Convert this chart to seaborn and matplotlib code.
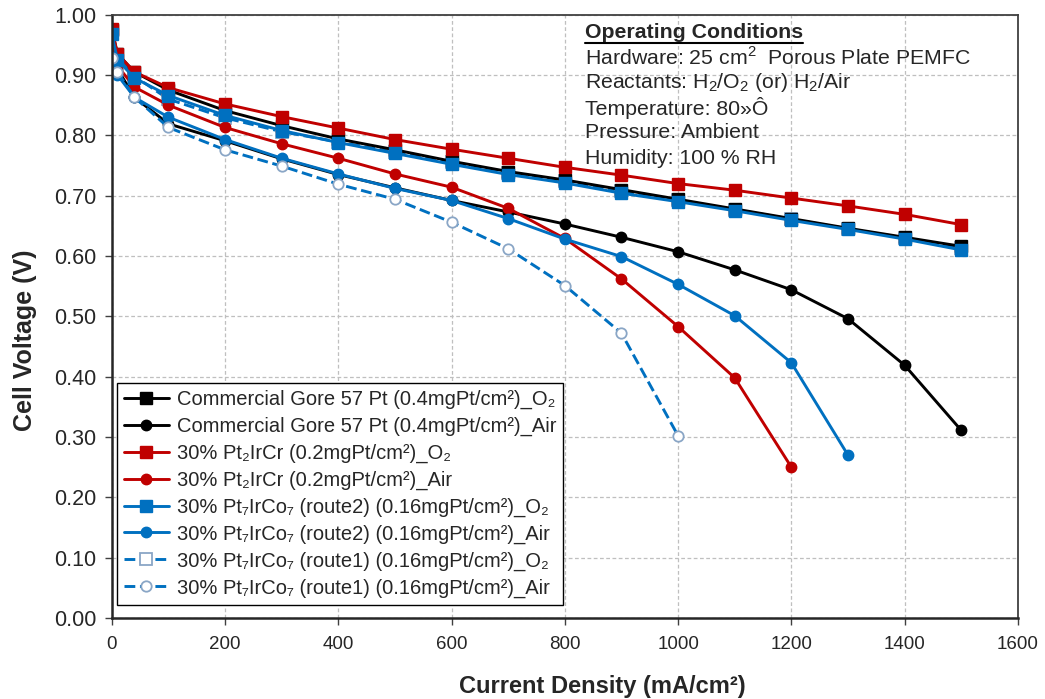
import matplotlib
matplotlib.use("Agg")
import matplotlib.pyplot as plt
from matplotlib.lines import Line2D
from matplotlib.ticker import FormatStrFormatter, MultipleLocator
import seaborn as sns

# current density points (mA/cm2)
current = [0, 10, 40, 100, 200, 300, 400, 500, 600, 700, 800, 900,
           1000, 1100, 1200, 1300, 1400, 1500]

gore_o2 = [0.975, 0.935, 0.905, 0.875, 0.841, 0.816, 0.794, 0.776, 0.757, 0.740,
           0.726, 0.710, 0.694, 0.678, 0.662, 0.646, 0.631, 0.616]
gore_air = [0.930, 0.910, 0.863, 0.819, 0.791, 0.761, 0.735, 0.713, 0.692, 0.673,
            0.653, 0.631, 0.607, 0.577, 0.544, 0.496, 0.419, 0.311]
ptircr_o2 = [0.977, 0.935, 0.905, 0.879, 0.852, 0.831, 0.812, 0.793, 0.777, 0.762,
             0.747, 0.734, 0.720, 0.709, 0.696, 0.683, 0.669, 0.652]
ptircr_air = [0.938, 0.915, 0.880, 0.850, 0.813, 0.786, 0.762, 0.736, 0.714, 0.679,
              0.629, 0.562, 0.483, 0.398, 0.250]
route2_o2 = [0.968, 0.925, 0.895, 0.866, 0.833, 0.808, 0.788, 0.770, 0.752, 0.735,
             0.721, 0.704, 0.690, 0.675, 0.659, 0.644, 0.628, 0.610]
route2_air = [0.930, 0.900, 0.863, 0.830, 0.793, 0.762, 0.736, 0.712, 0.692, 0.662,
              0.628, 0.599, 0.553, 0.501, 0.423, 0.270]
route1_o2 = [0.970, 0.928, 0.898, 0.860, 0.829, 0.806, 0.789, 0.772, 0.755, 0.738,
             0.724, 0.708, 0.692, 0.677, 0.661, 0.645, 0.630, 0.614]
route1_air = [0.928, 0.905, 0.863, 0.813, 0.776, 0.749, 0.719, 0.694, 0.656, 0.612,
              0.551, 0.472, 0.302]

labels = [
    "Commercial Gore 57 Pt (0.4mgPt/cm²)_O₂",
    "Commercial Gore 57 Pt (0.4mgPt/cm²)_Air",
    "30% Pt₂IrCr (0.2mgPt/cm²)_O₂",
    "30% Pt₂IrCr (0.2mgPt/cm²)_Air",
    "30% Pt₇IrCo₇ (route2) (0.16mgPt/cm²)_O₂",
    "30% Pt₇IrCo₇ (route2) (0.16mgPt/cm²)_Air",
    "30% Pt₇IrCo₇ (route1) (0.16mgPt/cm²)_O₂",
    "30% Pt₇IrCo₇ (route1) (0.16mgPt/cm²)_Air",
]

conditions = [
    "Hardware: 25 cm$^2$  Porous Plate PEMFC",
    "Reactants: H$_2$/O$_2$ (or) H$_2$/Air",
    "Temperature: 80»Ô",
    "Pressure: Ambient",
    "Humidity: 100 % RH",
]

BLACK, RED, BLUE = "#000000", "#C00000", "#0070C0"
PALE = "#8AA6C6"

# values, colour, marker, linestyle, filled, zorder
series = [
    (gore_o2, BLACK, "s", "-", True, 2.2),
    (gore_air, BLACK, "o", "-", True, 2.2),
    (ptircr_o2, RED, "s", "-", True, 2.3),
    (ptircr_air, RED, "o", "-", True, 2.3),
    (route2_o2, BLUE, "s", "-", True, 2.4),
    (route2_air, BLUE, "o", "-", True, 2.4),
    (route1_o2, BLUE, "s", "--", False, 2.0),
    (route1_air, BLUE, "o", "--", False, 2.5),
]

sns.set_style("white")
plt.rcParams["font.family"] = ["Liberation Sans", "DejaVu Sans"]
plt.rcParams["mathtext.fontset"] = "custom"
plt.rcParams["mathtext.rm"] = "Liberation Sans"

fig = plt.figure(figsize=(10.45, 6.99), dpi=100)
ax = fig.add_axes([0.107, 0.116, 0.867, 0.863])

for (vals, color, marker, ls, filled, z), label in zip(series, labels):
    sns.lineplot(
        x=current[:len(vals)], y=vals, ax=ax, label=label,
        color=color, linestyle=ls, linewidth=2.1, zorder=z,
        marker=marker, markersize=8 if marker == "s" else 7.5,
        markerfacecolor=color if filled else "white",
        markeredgecolor=color if filled else PALE,
        markeredgewidth=1.0 if filled else 1.3,
        dashes=False if ls == "-" else (3, 1.6),
    )

ax.set_xlim(0, 1600)
ax.set_ylim(0, 1.0)
ax.xaxis.set_major_locator(MultipleLocator(200))
ax.yaxis.set_major_locator(MultipleLocator(0.1))
ax.yaxis.set_major_formatter(FormatStrFormatter("%.2f"))
ax.grid(True, color="#BFBFBF", linestyle=(0, (3, 2)), linewidth=0.9)
ax.tick_params(axis="both", which="major", direction="out", length=5, width=1,
               color="#404040", left=True, bottom=True)
ax.tick_params(axis="y", labelsize=15.5, pad=6)
ax.tick_params(axis="x", labelsize=13.5, pad=8)
for side, spine in ax.spines.items():
    spine.set_visible(True)
    spine.set_color("#262626" if side in ("left", "bottom") else "#404040")
    spine.set_linewidth(1.8 if side in ("left", "bottom") else 1.3)

ax.set_xlabel("Current Density (mA/cm²)", fontsize=17, fontweight="bold")
ax.set_ylabel("Cell Voltage (V)", fontsize=18, fontweight="bold")
ax.xaxis.set_label_coords(0.541, -0.094)
ax.yaxis.set_label_coords(-0.083, 0.461)

leg = ax.legend(loc="lower left", bbox_to_anchor=(0.006, 0.022), fontsize=14.5,
                frameon=True, fancybox=False, handlelength=2.2, handletextpad=0.4,
                labelspacing=0.38, borderpad=0.35, borderaxespad=0)
leg.get_frame().set_edgecolor("#000000")
leg.get_frame().set_linewidth(1.0)
leg.get_frame().set_alpha(1)

# operating conditions block
W, H = 1045, 699
title = fig.text(585 / W, 1 - 32 / H, "Operating Conditions", fontsize=15.3,
                 fontweight="bold", va="center", ha="left")
for i, line in enumerate(conditions):
    fig.text(585 / W, 1 - (58 + 25 * i) / H, line, fontsize=15.3, va="center", ha="left")

fig.canvas.draw()
bb = title.get_window_extent()
ul_y = bb.y0 - 1
fig.add_artist(Line2D([bb.x0 / W, bb.x1 / W], [ul_y / H, ul_y / H],
                      color="black", linewidth=1.5, transform=fig.transFigure))

fig.savefig("out.png", dpi=100)
